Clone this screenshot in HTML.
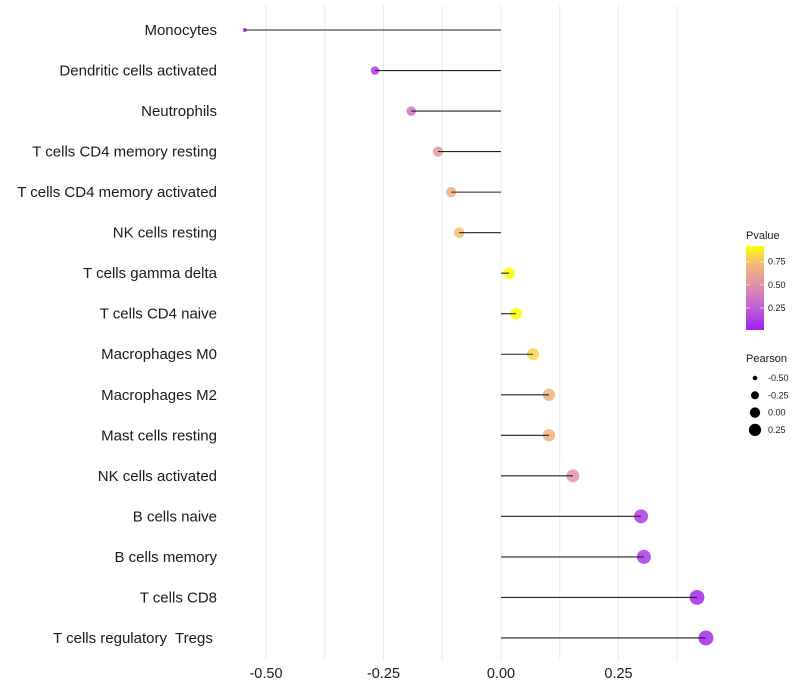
<!DOCTYPE html>
<html><head><meta charset="utf-8"><style>
body{margin:0;background:#fff}
svg{display:block;font-family:"Liberation Sans",sans-serif}
</style></head><body>
<svg id="c" width="800" height="700"></svg>
<script>
const categories=["Monocytes","Dendritic cells activated","Neutrophils","T cells CD4 memory resting","T cells CD4 memory activated","NK cells resting","T cells gamma delta","T cells CD4 naive","Macrophages M0","Macrophages M2","Mast cells resting","NK cells activated","B cells naive","B cells memory","T cells CD8","T cells regulatory  Tregs "];
const pearson=[-0.545,-0.268,-0.191,-0.134,-0.106,-0.089,0.017,0.032,0.068,0.102,0.102,0.153,0.298,0.304,0.417,0.436];
const pvalues=[0.01,0.12,0.35,0.55,0.66,0.75,0.95,0.92,0.8,0.68,0.68,0.52,0.12,0.1,0.03,0.04];
const xTicks=[-0.5,-0.25,0,0.25];
const xTickLabels=["-0.50","-0.25","0.00","0.25"];
const pvTicks=[0.25,0.5,0.75];
const sizeTicks=[-0.5,-0.25,0,0.25];

const NS="http://www.w3.org/2000/svg";
const svg=document.getElementById('c');
function el(t,a,p){const e=document.createElementNS(NS,t);for(const k in a)e.setAttribute(k,a[k]);(p||svg).appendChild(e);return e;}
const xs=v=>501+v*470;
const ys=i=>30+i*40.53;
const stops=[[0.01,[160,32,240]],[0.25,[192,96,216]],[0.5,[224,144,168]],[0.75,[245,192,112]],[0.92,[255,255,0]]];
function col(p){p=Math.max(0.01,Math.min(0.92,p));for(let k=1;k<stops.length;k++){if(p<=stops[k][0]){const a=stops[k-1],b=stops[k];const t=(p-a[0])/(b[0]-a[0]);return `rgb(${a[1].map((c,j)=>Math.round(c+(b[1][j]-c)*t)).join(',')})`;}}return 'rgb(255,255,0)';}
const smin=-0.545,smax=0.436;
function rad(v){const t=Math.max(0,(v-smin)/(smax-smin));return Math.sqrt(4+t*(56.25-4));}

for(let v=-0.5;v<=0.4;v+=0.125){const g=el('line',{x1:xs(v),x2:xs(v),y1:5,y2:660,stroke:'#ebebeb','stroke-width':1});

}
xTicks.forEach((v,i)=>{const t=el('text',{x:xs(v),y:678,'text-anchor':'middle','font-size':14.5,fill:'#1a1a1a'});t.textContent=xTickLabels[i];

});
categories.forEach((c,i)=>{const y=ys(i);
const t=el('text',{x:217,y:y+5,'text-anchor':'end','font-size':15,fill:'#1a1a1a',style:'white-space:pre'});t.textContent=c;


const pt=el('circle',{cx:xs(pearson[i]),cy:y,r:rad(pearson[i]),fill:col(pvalues[i]),'fill-opacity':0.85});


const ln=el('line',{x1:xs(0),x2:xs(pearson[i]),y1:y,y2:y,stroke:'#222','stroke-width':1.1});

});

const lt=el('text',{x:746,y:239,'font-size':11,fill:'#1a1a1a'});lt.textContent='Pvalue';


const defs=el('defs',{});const lg=el('linearGradient',{id:'gr',x1:0,y1:1,x2:0,y2:0},defs);
for(let k=0;k<=20;k++){el('stop',{offset:k/20,'stop-color':col(0.01+0.91*k/20)},lg);}
const cb=el('rect',{x:746,y:246,width:18,height:84,fill:'url(#gr)'});


const pvY=p=>330-(p-0.01)/0.91*84;
pvTicks.forEach(p=>{const t=el('text',{x:768,y:pvY(p)+3,'font-size':9,fill:'#1a1a1a'});t.textContent=p.toFixed(2);


el('line',{x1:746,x2:750,y1:pvY(p),y2:pvY(p),stroke:'#fff','stroke-opacity':0.6});
el('line',{x1:760,x2:764,y1:pvY(p),y2:pvY(p),stroke:'#fff','stroke-opacity':0.6});});
const st=el('text',{x:746,y:362,'font-size':11,fill:'#1a1a1a'});st.textContent='Pearson';


sizeTicks.forEach((v,i)=>{const y=378+i*17.3;
const c=el('circle',{cx:755,cy:y,r:rad(v)*0.9,fill:'#000'});


const t=el('text',{x:768,y:y+3,'font-size':9,fill:'#1a1a1a'});t.textContent=v.toFixed(2);

});
</script>
</body></html>
